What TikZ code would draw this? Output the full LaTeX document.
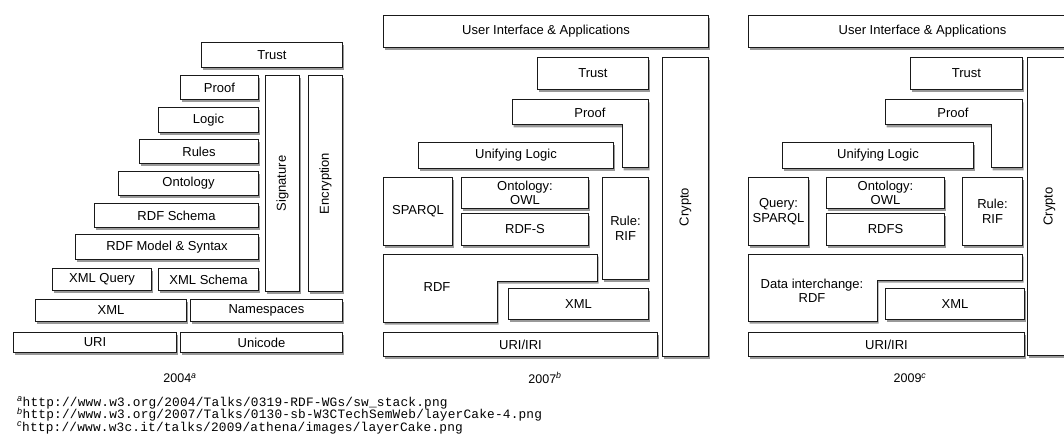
\documentclass[tikz,border=0pt]{standalone}
\usepackage{fontspec}
\setmainfont{Liberation Sans}
\setmonofont[LetterSpace=1.5]{Liberation Mono}
\usetikzlibrary{shadows}

\begin{document}
\begin{tikzpicture}[
        x=1pt, y=-1pt,
        shade/.style = {drop shadow={shadow xshift=1.5pt, shadow yshift=-2.5pt, opacity=0.4, fill=black}},
        layer/.style = {draw=black!90, fill=white, line width=1pt, shade, anchor=north west, inner sep=1pt, align=center, font=\fontsize{13}{14.5}\selectfont},
        lshape/.style = {draw=black!90, fill=white, line width=1pt, shade},
        sz/.style 2 args = {minimum width=#1pt, minimum height=#2pt},
        vert/.style = {label={[rotate=90, font=\fontsize{13}{14.5}\selectfont]center:#1}},
        tag/.style = {inner sep=0pt, align=center, font=\fontsize{13}{14.5}\selectfont},
        year/.style = {inner sep=0pt, font=\fontsize{12.5}{14}\selectfont},
        note/.style = {inner sep=0pt, anchor=base west, font=\fontsize{12.8}{13}\selectfont}
    ]
        \useasboundingbox (0,0) rectangle (1064,446);
        \clip (0,0) rectangle (1064,446);

        % 2004
        \node[layer, sz={141}{25}] (trustA) at (201,42) {Trust};
        \node[layer, sz={78}{24}] (proofA) at (180,75) {Proof};
        \node[layer, sz={100}{25}] (logicA) at (158,107) {Logic};
        \node[layer, sz={119}{24}] (rulesA) at (139,139) {Rules};
        \node[layer, sz={140}{24}] (ontoA) at (118,171) {Ontology};
        \node[layer, sz={164}{24}] (rdfsA) at (94,203) {RDF Schema};
        \node[layer, sz={183}{25}] (rdfmA) at (75,234) {RDF Model \& Syntax};
        \node[layer, sz={99}{22}] (xmlqA) at (52,268) {XML Query};
        \node[layer, sz={100}{22}] (xmlsA) at (158,268) {XML Schema};
        \node[layer, sz={151}{22}] (xmlA) at (35,299) {XML};
        \node[layer, sz={152}{22}] (nsA) at (190,299) {Namespaces};
        \node[layer, sz={163}{20}] (uriA) at (13,332) {URI};
        \node[layer, sz={162}{20}] (uniA) at (180,332) {Unicode};
        \node[layer, sz={34}{216}, vert=Signature] (sigA) at (265,75) {};
        \node[layer, sz={34}{216}, vert=Encryption] (encA) at (308,75) {};
        \node[year] (yearA) at (180,378) {2004\textsuperscript{\itshape a}};

        % 2007
        \node[layer, sz={325}{32}] (uiB) at (383,15) {User Interface \& Applications};
        \node[layer, sz={111}{32}] (trustB) at (537,57) {Trust};
        \draw[lshape] (512,100) -- (648,100) -- (648,168) -- (622,168) -- (622,125) -- (512,125) -- cycle;
        \node[tag] (proofB) at (590,113) {Proof};
        \node[layer, sz={195}{26}] (logicB) at (418,142) {Unifying Logic};
        \node[layer, sz={46}{299}, vert=Crypto] (cryptoB) at (662,57) {};
        \node[layer, sz={69}{68}] (sparqlB) at (383,177) {SPARQL};
        \node[layer, sz={127}{31}] (owlB) at (461,177) {Ontology:\\OWL};
        \node[layer, sz={127}{32}] (rdfsB) at (461,213) {RDF-S};
        \node[layer, sz={46}{102}] (rifB) at (602,177) {Rule:\\RIF};
        \draw[lshape] (383,254) -- (597,254) -- (597,281) -- (497,281) -- (497,322) -- (383,322) -- cycle;
        \node[tag] (rdfB) at (437,287) {RDF};
        \node[layer, sz={140}{31}] (xmlB) at (508,288) {XML};
        \node[layer, sz={274}{24}] (uriB) at (383,332) {URI/IRI};
        \node[year] (yearB) at (545,378) {2007\textsuperscript{\itshape b}};

        % 2009
        \node[layer, sz={332}{32}] (uiC) at (748,15) {\hspace*{16pt}User Interface \& Applications};
        \node[layer, sz={112}{32}] (trustC) at (910,57) {Trust};
        \draw[lshape] (885,100) -- (1022,100) -- (1022,168) -- (991,168) -- (991,125) -- (885,125) -- cycle;
        \node[tag] (proofC) at (953,113) {Proof};
        \node[layer, sz={191}{26}] (logicC) at (782,142) {Unifying Logic};
        \node[layer, sz={44}{298}, vert=Crypto] (cryptoC) at (1027,57) {};
        \node[layer, sz={60}{68}] (sparqlC) at (748,177) {Query:\\SPARQL};
        \node[layer, sz={118}{31}] (owlC) at (826,177) {Ontology:\\OWL};
        \node[layer, sz={118}{32}] (rdfsC) at (826,213) {RDFS};
        \node[layer, sz={60}{68}] (rifC) at (962,177) {Rule:\\RIF};
        \draw[lshape] (748,254) -- (1022,254) -- (1022,280) -- (877,280) -- (877,321) -- (748,321) -- cycle;
        \node[tag] (rdfC) at (812,291) {Data interchange:\\RDF};
        \node[layer, sz={139}{31}] (xmlC) at (885,288) {XML};
        \node[layer, sz={276}{24}] (uriC) at (748,332) {URI/IRI};
        \node[year] (yearC) at (910,378) {2009\textsuperscript{\itshape c}};

        % sources
        \node[note] (noteA) at (17,406) {\textsuperscript{\itshape a}\texttt{http://www.w3.org/2004/Talks/0319-RDF-WGs/sw\_stack.png}};
        \node[note] (noteB) at (17,418.5) {\textsuperscript{\itshape b}\texttt{http://www.w3.org/2007/Talks/0130-sb-W3CTechSemWeb/layerCake-4.png}};
        \node[note] (noteC) at (17,431) {\textsuperscript{\itshape c}\texttt{http://www.w3c.it/talks/2009/athena/images/layerCake.png}};

    \end{tikzpicture}
\end{document}
